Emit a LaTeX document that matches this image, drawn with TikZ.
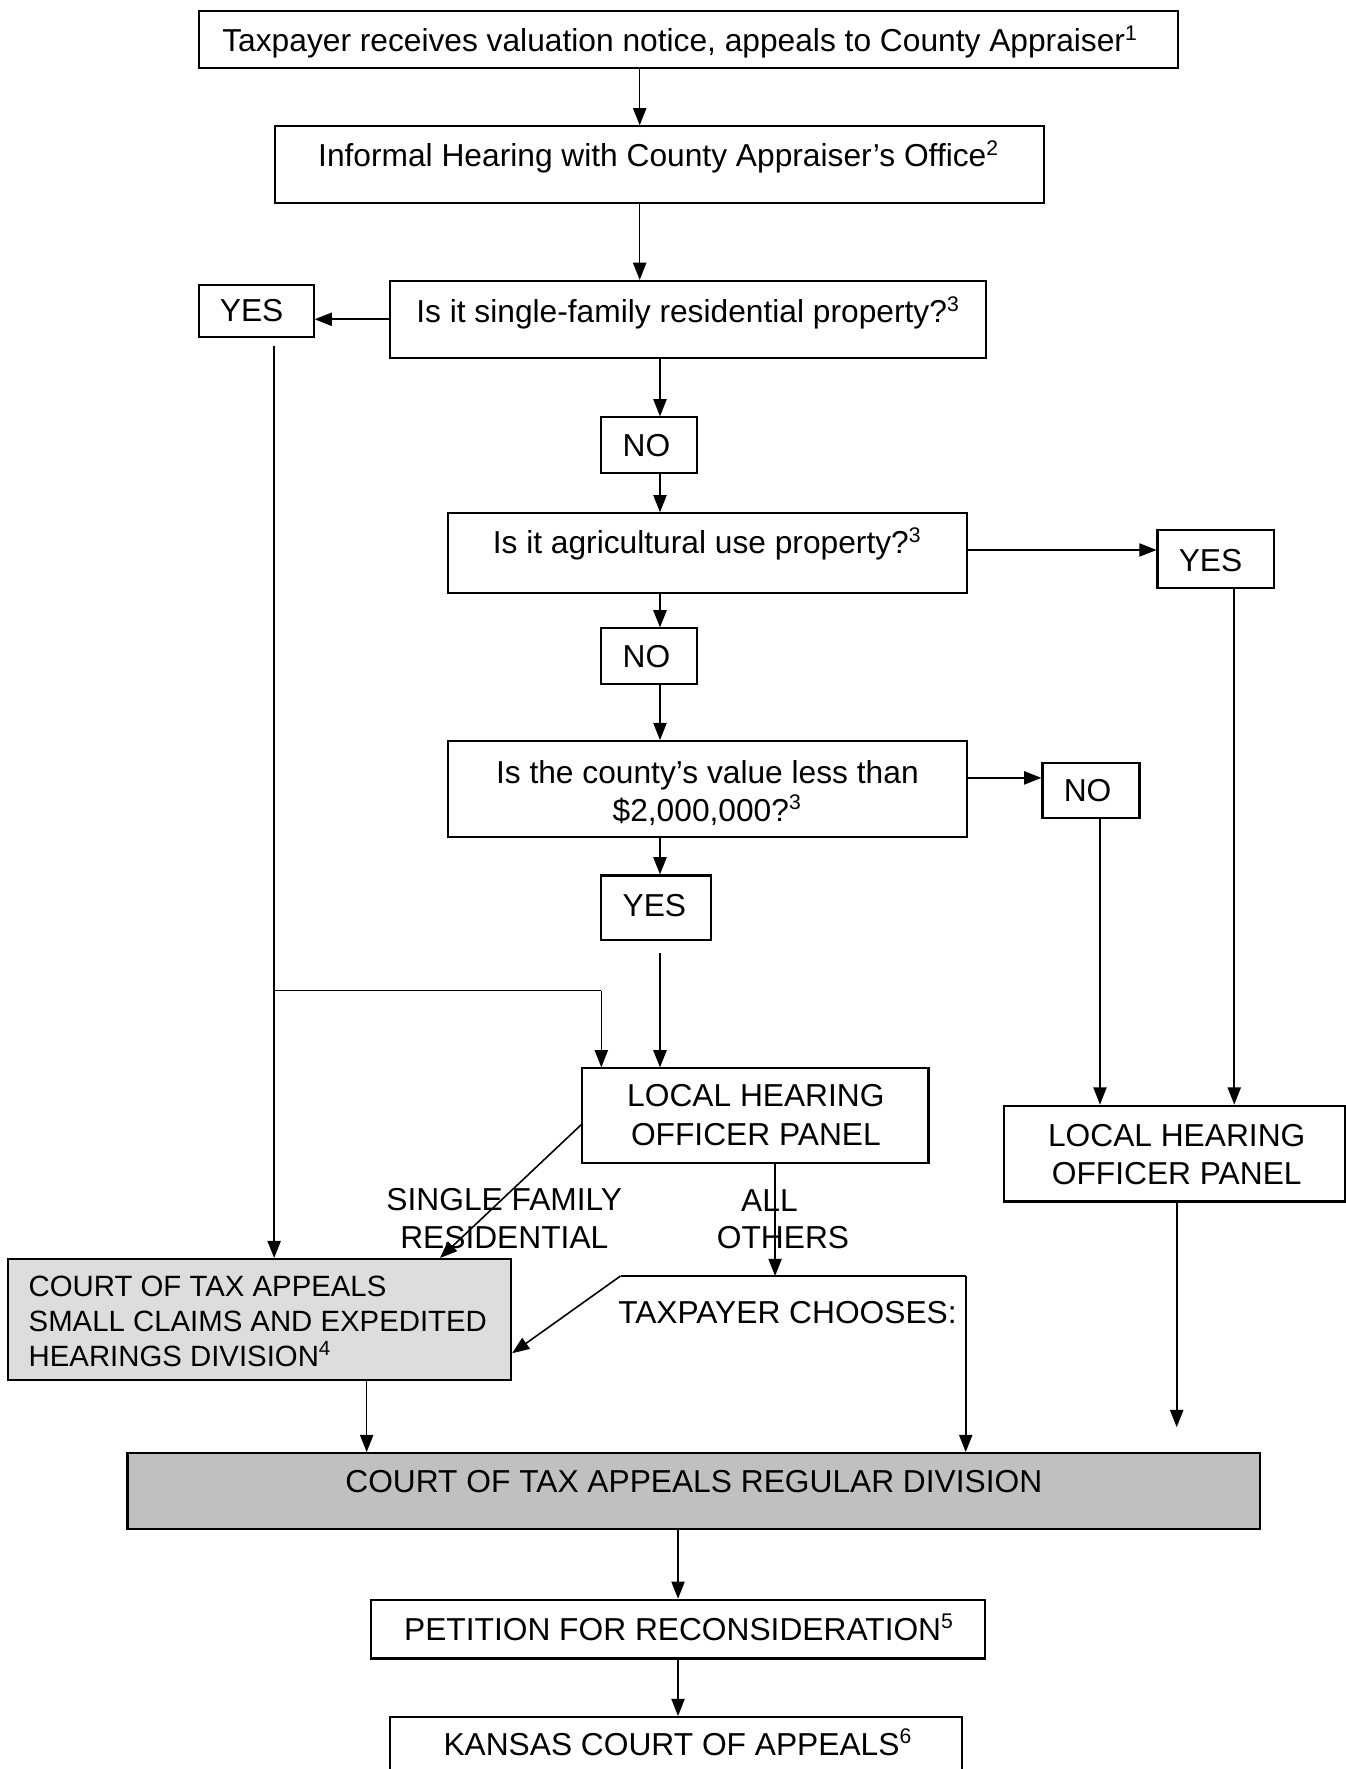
\documentclass[tikz,border=0pt]{standalone}
\usepackage{fontspec}
\setmainfont{Liberation Sans}
\usetikzlibrary{calc,arrows.meta}
\definecolor{ink}{HTML}{000000}
\definecolor{lightgray}{HTML}{DDDDDD}
\definecolor{midgray}{HTML}{C0C0C0}
\newcommand{\un}{0.015cm}
\tikzset{
  box/.style={draw=ink, line width=0.8pt, inner sep=0pt},
  bx/.style 2 args={box, minimum width=#1*\un, minimum height=#2*\un},
  txt/.style={text=ink, font=\fontsize{12}{14.5}\selectfont, inner sep=0pt, anchor=base},
  arr/.style={draw=ink, line width=0.6pt, -{Triangle[length=6.5pt,width=5pt]}},
  wire/.style={draw=ink, line width=0.6pt},
}

\begin{document}
\begin{tikzpicture}[x=0.015cm, y=-0.015cm]
  \useasboundingbox (0,0) rectangle (1193,1568);
  % boxes
  \node[bx={868}{50}] (notice) at (610,35) {};
  \node[bx={681}{68}] (informal) at (584.5,146) {};
  \node[bx={528}{68}] (q1) at (610,283) {};
  \node[bx={102}{46}] (ylft) at (227,276) {};
  \node[bx={85}{49}] (no1) at (575.5,394.5) {};
  \node[bx={460}{71}] (q2) at (627,490.5) {};
  \node[bx={103}{51}] (yrgt) at (1077.5,495.5) {};
  \node[bx={85}{49}] (no2) at (575.5,581.5) {};
  \node[bx={460}{85}] (q3) at (627,699.5) {};
  \node[bx={86}{49}] (nrgt) at (967,700.5) {};
  \node[bx={97}{57}] (ymid) at (581.5,804.5) {};
  \node[bx={307}{84}] (panel) at (669.5,989) {};
  \node[bx={302}{85}] (panelr) at (1041,1022.5) {};
  \node[bx={446}{107}, fill=lightgray] (small) at (230,1169.5) {};
  \node[bx={1004}{67}, fill=midgray] (regular) at (615,1321.5) {};
  \node[bx={544}{52}] (petition) at (601,1444) {};
  \node[bx={507}{50}] (kansas) at (599.5,1547) {};
  % texts (multi-line ones sit on their last baseline)
  \node[txt] (noticet) at (603,46) {Taxpayer receives valuation notice, appeals to County Appraiser\textsuperscript{1}};
  \node[txt] (informalt) at (584,148) {Informal Hearing with County Appraiser’s Office\textsuperscript{2}};
  \node[txt] (q1t) at (610,286) {Is it single-family residential property?\textsuperscript{3}};
  \node[txt] (ylftt) at (223,285) {YES};
  \node[txt] (no1t) at (573,405) {NO};
  \node[txt] (q2t) at (627,491) {Is it agricultural use property?\textsuperscript{3}};
  \node[txt] (yrgtt) at (1073,507) {YES};
  \node[txt] (no2t) at (573,592) {NO};
  \node[txt, align=center] (q3t) at (627,728) {Is the county’s value less than\\\$2,000,000?\textsuperscript{3}};
  \node[txt] (nrgtt) at (964,710) {NO};
  \node[txt] (ymidt) at (580,812) {YES};
  \node[txt, align=center] (panelt) at (670,1015) {LOCAL HEARING\\OFFICER PANEL};
  \node[txt, align=center] (panelrt) at (1043,1050) {LOCAL HEARING\\OFFICER PANEL};
  \node[txt, align=center] (sfrt) at (447,1107) {SINGLE FAMILY\\RESIDENTIAL};
  \node[txt] (allt) at (682,1074) {ALL};
  \node[txt] (otherst) at (694,1107) {OTHERS};
  \node[txt] (choose) at (698,1173) {TAXPAYER CHOOSES:};
  \node[txt, anchor=base west, align=left, font=\fontsize{11.1}{13.2}\selectfont] (smallt) at (25,1211)
    {COURT OF TAX APPEALS\\SMALL CLAIMS AND EXPEDITED\\HEARINGS DIVISION\textsuperscript{4}};
  \node[txt] (regulart) at (615,1323) {COURT OF TAX APPEALS REGULAR DIVISION};
  \node[txt] (petitiont) at (602,1454) {PETITION FOR RECONSIDERATION\textsuperscript{5}};
  \node[txt] (kansast) at (601,1556) {KANSAS COURT OF APPEALS\textsuperscript{6}};
  % helper coordinates
  \coordinate (sp1) at (567,0);
  \coordinate (sp2) at (585,0);
  \coordinate (lx) at (243,0);
  \coordinate (ytop) at (0,307);
  \coordinate (yjoin) at (0,878);
  \coordinate (bx) at (533,0);
  \coordinate (ygap) at (0,845);
  \coordinate (sd) at (390,0);
  \coordinate (ao) at (687,0);
  \coordinate (chl) at (550,1131);
  \coordinate (chr) at (856,1131);
  \coordinate (sx) at (325,0);
  \coordinate (rx) at (1094,0);
  \coordinate (nx) at (975,0);
  \coordinate (rend) at (1043,1265);
  \coordinate (bot) at (601,0);
  % spine
  \draw[arr] (sp1 |- notice.south) -- (sp1 |- informal.north);
  \draw[arr] (sp1 |- informal.south) -- (sp1 |- q1.north);
  \draw[arr] (q1.west) -- (q1.west -| ylft.east);
  \draw[arr] (sp2 |- q1.south) -- (sp2 |- no1.north);
  \draw[arr] (sp2 |- no1.south) -- (sp2 |- q2.north);
  \draw[arr] ($(q2.east)+(0,-3)$) -- ($(q2.east -| yrgt.west)+(0,-3)$);
  \draw[arr] (sp2 |- q2.south) -- (sp2 |- no2.north);
  \draw[arr] (sp2 |- no2.south) -- (sp2 |- q3.north);
  \draw[arr] ($(q3.east)+(0,-10)$) -- ($(q3.east -| nrgt.west)+(0,-10)$);
  \draw[arr] (sp2 |- q3.south) -- (sp2 |- ymid.north);
  \draw[arr] (sp2 |- ygap) -- (sp2 |- panel.north);
  % left branch
  \draw[arr] (lx |- ytop) -- (lx |- small.north);
  \draw[wire] (lx |- yjoin) -- (bx |- yjoin);
  \draw[arr] (bx |- yjoin) -- (bx |- panel.north);
  % right branches
  \draw[arr] (rx |- yrgt.south) -- (rx |- panelr.north);
  \draw[arr] (nx |- nrgt.south) -- (nx |- panelr.north);
  \draw[arr] (rend |- panelr.south) -- (rend);
  % panel outcomes
  \draw[arr] ($(panel.west)+(0,8)$) -- (sd |- small.north);
  \draw[arr] (ao |- panel.south) -- (ao |- chl);
  \draw[wire] (chl) -- (chr);
  \draw[arr] (chl) -- ($(small.east)+(0,30)$);
  \draw[arr] (chr) -- (chr |- regular.north);
  \draw[arr] (sx |- small.south) -- (sx |- regular.north);
  % appeals
  \draw[arr] (bot |- regular.south) -- (bot |- petition.north);
  \draw[arr] (bot |- petition.south) -- (bot |- kansas.north);
\end{tikzpicture}
\end{document}
